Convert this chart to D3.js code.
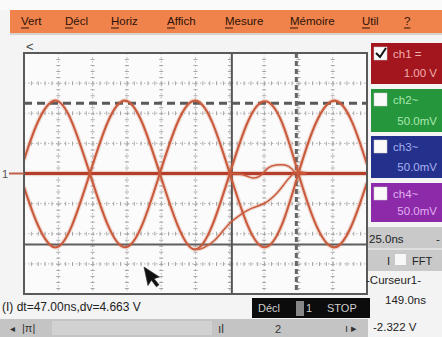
<!DOCTYPE html>
<html><head><meta charset="utf-8">
<script src="https://cdn.jsdelivr.net/npm/d3@7"></script>
<style>
html,body{margin:0;padding:0;background:#f6f6f6;}
svg{display:block;font-family:"Liberation Sans",Arial,sans-serif;}
</style></head>
<body>
<svg id="c" width="442" height="337"></svg>
<script>
// ---- data ----
const menuItems = ["Vert","Décl","Horiz","Affich","Mesure","Mémoire","Util","?"];
const menuX = [21,65,111,167,225,290,362,404];
const timeGrid = [25,50,75,100,125,150,175,200,225];      // ns, 25 ns/div
const voltGrid = [-3,-2,-1,1,2,3];                         // V, 1 V/div
const tA = [0,10,22.5,35,48,61,73.5,86,99,112,124.5,137,150,163,175.5,188,200,213,226.5,239,250];
const vA = [0.45,1.7,2.42,1.7,0,-1.7,-2.45,-1.72,0,1.7,2.42,1.72,0,-1.72,-2.45,-1.7,0,1.7,2.42,1.72,0.3];
const vB = [-0.45,-1.7,-2.45,-1.72,0,1.7,2.42,1.7,0,-1.72,-2.52,-1.75,0,1.7,2.4,1.7,0,-1.72,-2.45,-1.7,-0.3];
const tC = [126,128.3,131.9,139.2,148.7,157.4,166.2,175.7,184.4,190.2,197.5,205];
const vC = [-2.5,-2.51,-2.44,-2.21,-1.71,-1.38,-1.15,-0.98,-0.65,-0.32,0.02,0.02];
const tD = [150,157.4,163.3,166.9,172,177.8,183.7,190.2,195.3,199,206];
const vD = [0,-0.02,-0.1,-0.15,-0.08,0.18,0.28,0.28,0.15,0.0,0];
const tZero = [0,250], vZero = [0,0];
const cursorT = [151.5,198.5];     // ns
const cursorV = [-2.36,2.33];      // V
const channels = [
  {name:"ch1 =", scale:"1.00 V", fill:"#a3161e", txt:"#f0b0b0", checked:true},
  {name:"ch2~", scale:"50.0mV", fill:"#26963c", txt:"#a8e8b0", checked:false},
  {name:"ch3~", scale:"50.0mV", fill:"#23318c", txt:"#a8b0f0", checked:false},
  {name:"ch4~", scale:"50.0mV", fill:"#8c2aaa", txt:"#e0b0f0", checked:false}
];
const chTop = [43,89,136,183], chBottom = [84,132,178,222];
const statusText = "(I) dt=47.00ns,dv=4.663 V";
const timebase = "25.0ns", cursorLabel = "-Curseur1-", cursorTime = "149.0ns", cursorVolt = "-2.322 V";

// ---- drawing ----
const svg = d3.select("#c");
const W = 442, H = 337;
const pl = 24, pr = 367, pt = 53, pb = 294;
const x = d3.scaleLinear().domain([0,250]).range([pl,pr]);
const y = d3.scaleLinear().domain([-4,4]).range([pb,pt]);

svg.append("rect").attr("width",W).attr("height",H).attr("fill","#f4f4f4");

// menu bar
svg.append("rect").attr("x",0).attr("y",0).attr("width",W).attr("height",10).attr("fill","#fafafa");
svg.append("rect").attr("x",10).attr("y",10).attr("width",W-10).attr("height",23).attr("fill","#f0834b");
svg.append("rect").attr("x",10).attr("y",33).attr("width",W-10).attr("height",2).attr("fill","#d8d0cc");
menuItems.forEach((m,i)=>{
  const t = svg.append("text").attr("x",menuX[i]).attr("y",25).attr("font-size",11.5)
    .attr("fill","#2c1208").attr("font-weight","normal").text(m);
  const bb = t.node().getBBox();
  svg.append("line").attr("x1",menuX[i]).attr("x2",menuX[i]+Math.min(8,bb.width)).attr("y1",28).attr("y2",28)
    .attr("stroke","#2c1208").attr("stroke-width",1);
});

// "<" marker
svg.append("text").attr("x",26).attr("y",51).attr("font-size",13).attr("fill","#444").text("<");

// plot area
svg.append("rect").attr("x",pl).attr("y",pt).attr("width",pr-pl).attr("height",pb-pt)
  .attr("fill","#fbfbfb");
const defs = svg.append("defs");
defs.append("clipPath").attr("id","clip").append("rect")
  .attr("x",pl).attr("y",pt).attr("width",pr-pl).attr("height",pb-pt);
const g = svg.append("g").attr("clip-path","url(#clip)");

// graticule
const xStep = (x(25)-x(0))/5, yStep = (y(0)-y(1))/5;
g.selectAll(".vg").data(timeGrid).enter().append("line")
  .attr("x1",d=>x(d)).attr("x2",d=>x(d)).attr("y1",pt).attr("y2",pb)
  .attr("stroke","#b4b4b4").attr("stroke-width",1).attr("stroke-dasharray","1.5,2.5");
g.selectAll(".vt").data(timeGrid).enter().append("line")
  .attr("x1",d=>x(d)).attr("x2",d=>x(d)).attr("y1",pt).attr("y2",pb)
  .attr("stroke","#a8a8a8").attr("stroke-width",4).attr("stroke-dasharray",`1,${yStep-1}`);
g.selectAll(".hg").data(voltGrid).enter().append("line")
  .attr("x1",pl).attr("x2",pr).attr("y1",d=>y(d)).attr("y2",d=>y(d))
  .attr("stroke","#b4b4b4").attr("stroke-width",1).attr("stroke-dasharray","1.5,2.5");
g.selectAll(".ht").data(voltGrid).enter().append("line")
  .attr("x1",pl).attr("x2",pr).attr("y1",d=>y(d)).attr("y2",d=>y(d))
  .attr("stroke","#a8a8a8").attr("stroke-width",4).attr("stroke-dasharray",`1,${xStep-1}`);

// cursors
g.append("line").attr("x1",pl).attr("x2",pr).attr("y1",y(cursorV[1])).attr("y2",y(cursorV[1]))
  .attr("stroke","#5a5a5a").attr("stroke-width",3).attr("stroke-dasharray","8,5");
g.append("line").attr("x1",pl).attr("x2",pr).attr("y1",y(cursorV[0])).attr("y2",y(cursorV[0]))
  .attr("stroke","#5e5e5e").attr("stroke-width",2);
g.append("line").attr("x1",x(cursorT[0])).attr("x2",x(cursorT[0])).attr("y1",pt).attr("y2",pb)
  .attr("stroke","#555").attr("stroke-width",2);
g.append("line").attr("x1",x(cursorT[1])).attr("x2",x(cursorT[1])).attr("y1",pt).attr("y2",pb)
  .attr("stroke","#666").attr("stroke-width",3).attr("stroke-dasharray","5,3");

// traces
const line = d3.line().x(d=>x(d[0])).y(d=>y(d[1])).curve(d3.curveNatural);
const zip = (a,b)=>a.map((v,i)=>[v,b[i]]);
const traceCol = "#c95a3b";
function trace(pts,w,col){
  g.append("path").attr("d",line(pts)).attr("fill","none").attr("stroke",col).attr("stroke-width",w+2.5).attr("opacity",0.2);
  g.append("path").attr("d",line(pts)).attr("fill","none").attr("stroke",col).attr("stroke-width",w);
}
trace(zip(tZero,vZero),3.2,"#b53e2a");
trace(zip(tA,vA),2.1,traceCol);
trace(zip(tA,vB),2.1,traceCol);
trace(zip(tC,vC),1.5,traceCol);
trace(zip(tD,vD),1.5,traceCol);

// plot border
svg.append("rect").attr("x",pl).attr("y",pt).attr("width",pr-pl).attr("height",pb-pt)
  .attr("fill","none").attr("stroke","#5a5a5a").attr("stroke-width",2);

// channel-1 ground marker
svg.append("text").attr("x",2).attr("y",y(0)+4).attr("font-size",11).attr("fill","#555").text("1");
svg.append("line").attr("x1",9).attr("x2",pl).attr("y1",y(0)).attr("y2",y(0)).attr("stroke","#c0604a").attr("stroke-width",2);

// mouse pointer
svg.append("path").attr("transform",`translate(144,267) rotate(-12)`)
  .attr("d","M0,0 L0,19 L4.5,14.5 L8,22 L11,20.5 L7.5,13.5 L13,13 Z")
  .attr("fill","#111").attr("stroke","#333").attr("stroke-width",0.6);

// channel boxes
channels.forEach((c,i)=>{
  const top = chTop[i], h = chBottom[i]-chTop[i];
  svg.append("rect").attr("x",371).attr("y",top).attr("width",W-371).attr("height",h).attr("fill",c.fill);
  svg.append("rect").attr("x",374).attr("y",top+4).attr("width",13).attr("height",13).attr("fill","#fafafa")
    .attr("stroke","#ccc").attr("stroke-width",0.5);
  if(c.checked){
    svg.append("path").attr("d",`M376,${top+10} L380,${top+14} L386,${top+5}`).attr("fill","none")
      .attr("stroke","#111").attr("stroke-width",2);
  }
  svg.append("text").attr("x",393).attr("y",top+15).attr("font-size",11.5).attr("fill",c.txt).text(c.name);
  svg.append("text").attr("x",437).attr("y",top+h-7).attr("font-size",11.5).attr("fill",c.txt)
    .attr("text-anchor","end").text(c.scale);
});

// right info panel
svg.append("rect").attr("x",368).attr("y",227).attr("width",W-368).attr("height",44).attr("fill","#c9c9c9");
svg.append("line").attr("x1",368).attr("x2",W).attr("y1",249).attr("y2",249).attr("stroke","#e6e6e6").attr("stroke-width",1.5);
svg.append("text").attr("x",369).attr("y",243).attr("font-size",11.5).attr("fill","#222").text(timebase);
svg.append("text").attr("x",436).attr("y",243).attr("font-size",11.5).attr("fill","#222").text("-");
svg.append("text").attr("x",387).attr("y",265).attr("font-size",11).attr("fill","#222").text("I");
svg.append("rect").attr("x",395).attr("y",254).attr("width",11).attr("height",11).attr("fill","#f8f8f8");
svg.append("text").attr("x",412).attr("y",265).attr("font-size",11).attr("fill","#222").text("FFT");
svg.append("rect").attr("x",368).attr("y",271).attr("width",W-368).attr("height",66).attr("fill","#f3f3f3");
svg.append("text").attr("x",366).attr("y",284).attr("font-size",11.5).attr("fill","#222").text(cursorLabel);
svg.append("text").attr("x",385).attr("y",304).attr("font-size",11.5).attr("fill","#222").text(cursorTime);
svg.append("text").attr("x",373).attr("y",331).attr("font-size",11.5).attr("fill","#222").text(cursorVolt);

// status line
svg.append("text").attr("x",2).attr("y",311).attr("font-size",12).attr("fill","#222").text(statusText);
svg.append("rect").attr("x",252).attr("y",298).attr("width",118).attr("height",20).attr("fill","#0c0c0c");
svg.append("text").attr("x",258).attr("y",312).attr("font-size",11).attr("fill","#cfcfcf").text("Décl");
svg.append("rect").attr("x",296).attr("y",301).attr("width",8).attr("height",15).attr("fill","#888");
svg.append("text").attr("x",306).attr("y",312).attr("font-size",11).attr("fill","#cfcfcf").text("1");
svg.append("text").attr("x",327).attr("y",312).attr("font-size",11).attr("fill","#cfcfcf").text("STOP");

// scrollbar
svg.append("rect").attr("x",0).attr("y",319).attr("width",368).attr("height",18).attr("fill","#c4c4c4");
svg.append("rect").attr("x",52).attr("y",321).attr("width",160).attr("height",14).attr("fill","#d2d2d2");
svg.append("text").attr("x",10).attr("y",332).attr("font-size",10).attr("fill","#333").text("◂");
svg.append("text").attr("x",22).attr("y",332).attr("font-size",11).attr("fill","#333").text("|π|");
svg.append("text").attr("x",218).attr("y",333).attr("font-size",12).attr("fill","#333").text("ıl");
svg.append("text").attr("x",275).attr("y",333).attr("font-size",11).attr("fill","#333").text("2");
svg.append("text").attr("x",345).attr("y",332).attr("font-size",11).attr("fill","#333").text("ı ▸");
</script>
</body></html>
